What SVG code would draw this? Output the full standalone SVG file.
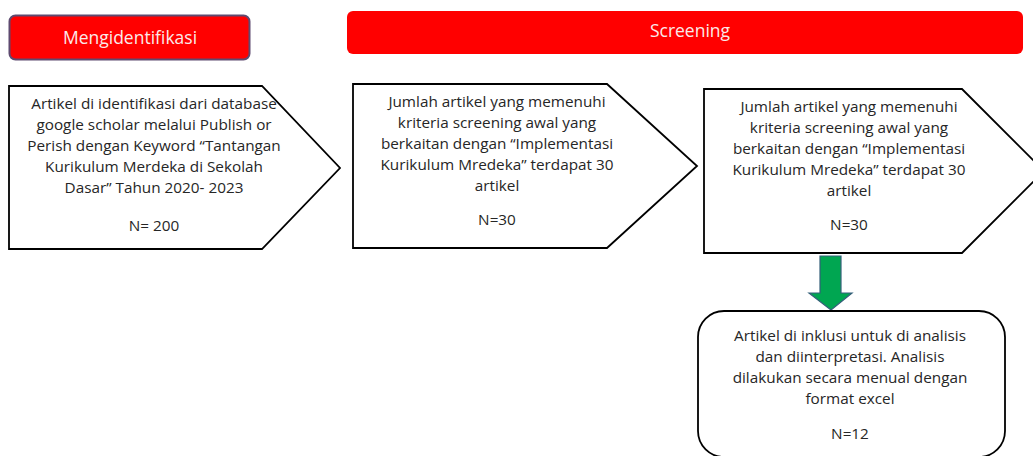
<svg xmlns="http://www.w3.org/2000/svg" width="1033" height="456" viewBox="0 0 1033 456">
<style>
.hdr{fill:#ff0000}
.htxt{font-family:"Open Sans","Liberation Sans",sans-serif;font-size:17.5px;fill:#fbeaea;text-anchor:middle}
.box{fill:#ffffff;stroke:#000000;stroke-width:1.8;stroke-linejoin:miter}
.t{font-family:"Open Sans","Liberation Sans",sans-serif;font-size:15.3px;fill:#262626;text-anchor:middle}
.arrow{fill:#00a651;stroke:#35607a;stroke-width:1.2}
</style>
<rect width="1033" height="456" fill="#ffffff"/>
<g id="hdr-identifikasi">
<rect class="hdr" x="9.5" y="15.5" width="240" height="44" rx="6" stroke="#5e4a70" stroke-width="2"/>
<text class="htxt" x="130" y="44">Mengidentifikasi</text>
</g>
<g id="hdr-screening">
<rect class="hdr" x="347" y="11" width="676" height="43" rx="6"/>
<text class="htxt" x="690" y="37">Screening</text>
</g>
<g id="node-identifikasi">
<polygon class="box" points="9,86 262,86 340,168 262,249 9,249"/>
<text class="t"><tspan x="154" y="108.5">Artikel di identifikasi dari database</tspan><tspan x="154" y="129.5">google scholar melalui Publish or</tspan><tspan x="154" y="150.5">Perish dengan Keyword “Tantangan</tspan><tspan x="154" y="171.5">Kurikulum Merdeka di Sekolah</tspan><tspan x="154" y="192.5">Dasar” Tahun 2020- 2023</tspan><tspan x="154" y="230.5">N= 200</tspan></text>
</g>
<g id="node-screening1">
<polygon class="box" points="353,84 607,84 697,166 607,248 353,248"/>
<text class="t"><tspan x="497" y="106.5">Jumlah artikel yang memenuhi</tspan><tspan x="497" y="127.5">kriteria screening awal yang</tspan><tspan x="497" y="148.5">berkaitan dengan “Implementasi</tspan><tspan x="497" y="169.5">Kurikulum Mredeka” terdapat 30</tspan><tspan x="497" y="190.5">artikel</tspan><tspan x="497" y="224.5">N=30</tspan></text>
</g>
<g id="node-screening2">
<polygon class="box" points="704,89 962,89 1044,171 962,253 704,253"/>
<text class="t"><tspan x="849" y="111.5">Jumlah artikel yang memenuhi</tspan><tspan x="849" y="132.5">kriteria screening awal yang</tspan><tspan x="849" y="153.5">berkaitan dengan “Implementasi</tspan><tspan x="849" y="174.5">Kurikulum Mredeka” terdapat 30</tspan><tspan x="849" y="195.5">artikel</tspan><tspan x="849" y="229.5">N=30</tspan></text>
</g>
<g id="connectors">
<polygon class="arrow" points="820,256 841,256 841,293 852,293 831,310 809,293 820,293"/>
</g>
<g id="node-inklusi">
<rect class="box" x="698" y="311" width="307" height="146" rx="26"/>
<text class="t"><tspan x="850" y="340.5">Artikel di inklusi untuk di analisis</tspan><tspan x="850" y="361.5">dan diinterpretasi. Analisis</tspan><tspan x="850" y="382.5">dilakukan secara menual dengan</tspan><tspan x="850" y="403.5">format excel</tspan><tspan x="850" y="438.5">N=12</tspan></text>
</g>
</svg>
